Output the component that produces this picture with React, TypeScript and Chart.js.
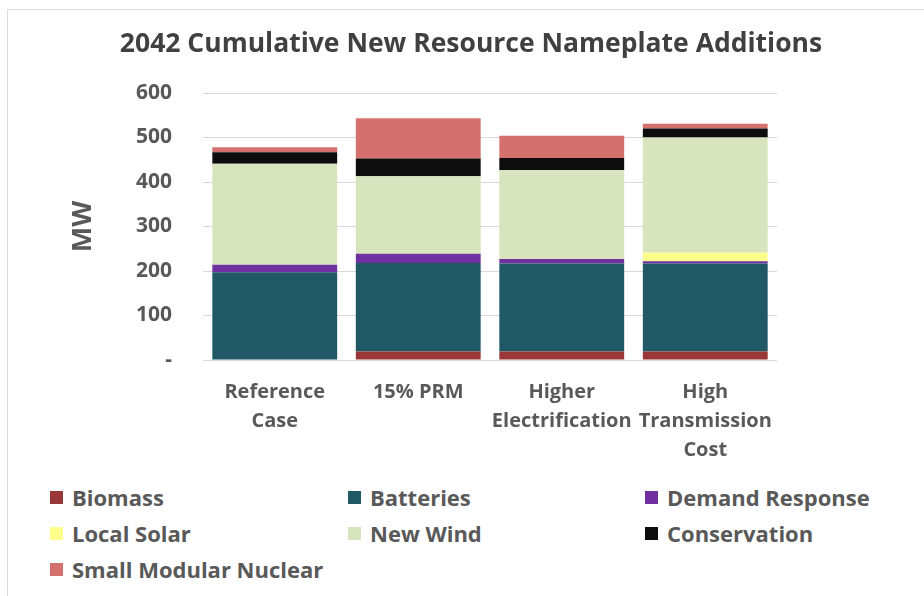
import React, { useEffect, useRef } from "react";
import { Chart, registerables } from "chart.js";

Chart.register(...registerables);

const chartTitle = "2042 Cumulative New Resource Nameplate Additions";

const scenarios: string[][] = [
  ["Reference", "Case"],
  ["15% PRM"],
  ["Higher", "Electrification"],
  ["High", "Transmission", "Cost"],
];

const biomass = [0, 19, 19, 19];
const batteries = [197, 199, 198, 198];
const demandResponse = [17, 21, 10, 5];
const localSolar = [0, 0, 0, 19];
const newWind = [227, 174, 200, 259];
const conservation = [26, 40, 27, 20];
const smallModularNuclear = [11, 90, 50, 11];

const yTicks = [0, 100, 200, 300, 400, 500, 600];

const seriesNames = [
  "Biomass",
  "Batteries",
  "Demand Response",
  "Local Solar",
  "New Wind",
  "Conservation",
  "Small Modular Nuclear",
];
const seriesColors = [
  "#9a3838",
  "#215866",
  "#7030a0",
  "#ffff8c",
  "#d7e4bd",
  "#0d0d0d",
  "#d4716e",
];
const seriesValues = [
  biomass,
  batteries,
  demandResponse,
  localSolar,
  newWind,
  conservation,
  smallModularNuclear,
];

const FONT = "'Open Sans', Lato, sans-serif";
const TEXT = "#595959";

export default function App() {
  const canvasRef = useRef<HTMLCanvasElement | null>(null);

  useEffect(() => {
    if (!canvasRef.current) return;
    const chart = new Chart(canvasRef.current, {
      type: "bar",
      data: {
        labels: scenarios,
        datasets: seriesNames.map((name, i) => ({
          label: name,
          data: seriesValues[i],
          backgroundColor: seriesColors[i],
          borderWidth: 0,
          categoryPercentage: 1,
          barPercentage: 0.87,
        })),
      },
      options: {
        animation: false,
        responsive: false,
        maintainAspectRatio: false,
        layout: { padding: { left: 0, right: 147, top: 93, bottom: 0 } },
        plugins: {
          legend: { display: false },
          tooltip: { enabled: false },
          title: { display: false },
        },
        scales: {
          x: {
            stacked: true,
            grid: { display: false, drawTicks: false },
            border: { display: false },
            ticks: {
              color: TEXT,
              padding: 17.5,
              maxRotation: 0,
              autoSkip: false,
              font: { family: FONT, size: 20, weight: "bold", lineHeight: 1.45 },
            },
            afterFit: (scale: any) => {
              scale.height = 115;
            },
          },
          y: {
            stacked: true,
            min: 0,
            max: 600,
            afterBuildTicks: (scale: any) => {
              scale.ticks = yTicks.map((v) => ({ value: v }));
            },
            grid: { color: "#d9d9d9", lineWidth: 1, drawTicks: false },
            border: { display: false },
            ticks: {
              color: TEXT,
              padding: 31,
              font: { family: FONT, size: 21, weight: "bold" },
              callback: (v: any) => (Number(v) === 0 ? "-" : String(v)),
            },
            title: {
              display: true,
              text: "MW",
              color: TEXT,
              font: { family: FONT, size: 27, weight: "bold", lineHeight: 1.2 },
              padding: { top: 67, bottom: 0 },
            },
            afterFit: (scale: any) => {
              scale.width = 203;
            },
          },
        },
      },
    });
    return () => chart.destroy();
  }, []);

  const legendCols = [50, 348, 645];
  const legendRows = [497, 533, 569];

  return (
    <div
      style={{
        position: "fixed",
        left: 0,
        top: 0,
        width: 924,
        height: 596,
        background: "#ffffff",
        overflow: "hidden",
      }}
    >
      <div
        style={{
          position: "absolute",
          left: 7,
          top: 9,
          right: -2,
          bottom: -2,
          borderTop: "1px solid #dcdcdc",
          borderLeft: "1px solid #dcdcdc",
        }}
      />
      <canvas
        ref={canvasRef}
        width={924}
        height={475}
        style={{ position: "absolute", left: 0, top: 0, width: 924, height: 475 }}
      />
      <div
        style={{
          position: "absolute",
          left: 471 - 400,
          width: 800,
          top: 42 - 18,
          height: 36,
          lineHeight: "36px",
          textAlign: "center",
          fontFamily: FONT,
          fontWeight: 700,
          fontSize: 26.5,
          color: "#404040",
          whiteSpace: "nowrap",
        }}
      >
        {chartTitle}
      </div>
      {seriesNames.map((name, i) => (
        <div
          key={name}
          style={{
            position: "absolute",
            left: legendCols[i % 3],
            top: legendRows[Math.floor(i / 3)] - 15,
            height: 30,
            display: "flex",
            alignItems: "center",
            fontFamily: FONT,
            fontWeight: 700,
            fontSize: 22,
            color: TEXT,
            whiteSpace: "nowrap",
          }}
        >
          <span
            style={{
              display: "inline-block",
              width: 13,
              height: 13,
              background: seriesColors[i],
              marginRight: 9,
            }}
          />
          {name}
        </div>
      ))}
    </div>
  );
}
